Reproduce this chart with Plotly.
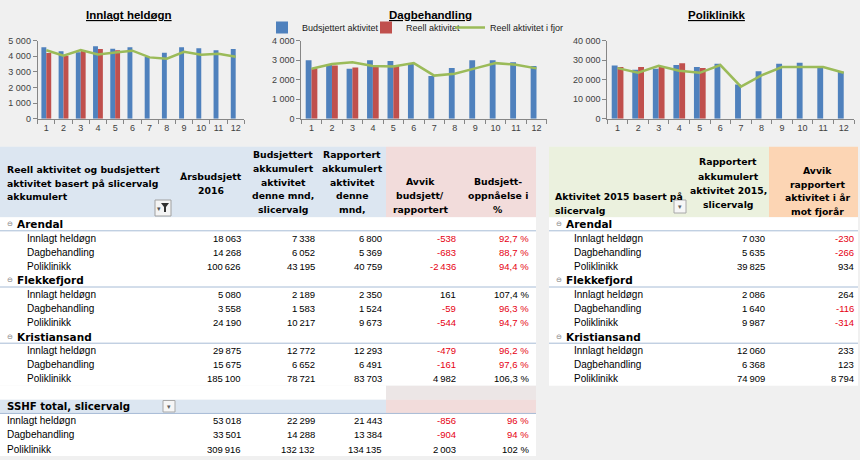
import plotly.graph_objects as go

W, H = 860, 460

# ---------------- data ----------------
months = [str(m) for m in range(1, 13)]

innlagt_budsjett = [4580, 4330, 4260, 4640, 4490, 4580, 3960, 4220, 4580, 4520, 4390, 4470]
innlagt_reell = [4210, 4040, 4340, 4470, 4380]
innlagt_fjor = [4390, 4040, 4400, 4110, 4240, 4360, 3930, 3850, 4290, 4100, 4170, 3970]

dag_budsjett = [3000, 2770, 2560, 3000, 2960, 2820, 2190, 2600, 3000, 3000, 2900, 2700]
dag_reell = [2585, 2725, 2625, 2725, 2725]
dag_fjor = [2560, 2800, 2900, 2700, 2680, 2850, 2210, 2310, 2580, 2850, 2770, 2580]

poli_budsjett = [27250, 25150, 25650, 27550, 26530, 28200, 17600, 24300, 28200, 28700, 26700, 24100]
poli_reell = [26480, 26480, 26650, 28500, 26030]
poli_fjor = [25950, 23550, 27150, 24550, 23520, 27500, 16400, 22200, 26500, 26500, 26500, 23600]

chart_titles = ["Innlagt heldøgn", "Dagbehandling", "Poliklinikk"]
series_names = ["Budsjettert aktivitet", "Reell aktivitet", "Reell aktivitet i fjor"]
chart_ymax = [5000, 4000, 40000]
chart_dtick = [1000, 1000, 10000]

sites = ["Arendal", "Flekkefjord", "Kristiansand"]
activities = ["Innlagt heldøgn", "Dagbehandling", "Poliklinikk"]
aarsbudsjett_2016 = [[18063, 14268, 100626], [5080, 3558, 24190], [29875, 15675, 185100]]
budsjett_akk = [[7338, 6052, 43195], [2189, 1583, 10217], [12772, 6652, 78721]]
rapportert_akk = [[6800, 5369, 40759], [2350, 1524, 9673], [12293, 6491, 83703]]
avvik_budsjett = [[-538, -683, -2436], [161, -59, -544], [-479, -161, 4982]]
oppnaelse_pct = [[92.7, 88.7, 94.4], [107.4, 96.3, 94.7], [96.2, 97.6, 106.3]]

total_label = "SSHF total, slicervalg"
total_aarsbudsjett = [53018, 33501, 309916]
total_budsjett_akk = [22299, 14288, 132132]
total_rapportert_akk = [21443, 13384, 134135]
total_avvik = [-856, -904, 2003]
total_pct = [96, 94, 102]

aktivitet_2015 = [[7030, 5635, 39825], [2086, 1640, 9987], [12060, 6368, 74909]]
avvik_fjor = [[-230, -266, 934], [264, -116, -314], [233, 123, 8794]]

left_headers = [
    ["Reell aktivitet og budsjettert", "aktivitet basert på slicervalg", "akkumulert"],
    ["Årsbudsjett", "2016"],
    ["Budsjettert", "akkumulert", "aktivitet", "denne mnd,", "slicervalg"],
    ["Rapportert", "akkumulert", "aktivitet", "denne", "mnd,"],
    ["Avvik", "budsjett/", "rapportert"],
    ["Budsjett-", "oppnåelse i", "%"],
]
right_headers = [
    ["Aktivitet 2015 basert på", "slicervalg"],
    ["Rapportert", "akkumulert", "aktivitet 2015,", "slicervalg"],
    ["Avvik", "rapportert", "aktivitet i år", "mot fjorår"],
]

# ---------------- style ----------------
BLUE, RED, GREEN = "#4F81BD", "#C0504D", "#9BBB59"
BG = "#F0F0F0"
TXT_RED = "#E60012"
AXIS = "#868686"
HDR_BLUE, HDR_PINK = "#DCE6F1", "#F2DCDB"
HDR_GREEN, HDR_ORANGE = "#EBF1DE", "#FCD5B4"
SEP = "#A7BCD6"
F_REG = "Liberation Sans, Arial, sans-serif"
F_NUM = "Liberation Sans, Arial, sans-serif"
NUM_SIZE = 9.5
F_BOLD = "DejaVu Sans, Verdana, sans-serif"


def px(x):
    return x / W


def py(y):
    return 1 - y / H


def fmt_int(v):
    return f"{v:,}".replace(",", "\u2009")


def fmt_pct(v):
    if float(v).is_integer():
        return f"{int(v)} %"
    return f"{v:.1f}".replace(".", ",") + " %"


fig = go.Figure()

# ---------------- charts ----------------
chart_data = [
    (innlagt_budsjett, innlagt_reell, innlagt_fjor),
    (dag_budsjett, dag_reell, dag_fjor),
    (poli_budsjett, poli_reell, poli_fjor),
]
chart_x = [(37.7, 244.3), (301.3, 546.7), (607.3, 854.0)]
title_cx = [129, 430, 716.5]
plot_top, plot_bot = 40.7, 118.7
legend_ids = ["legend", "legend2", "legend3"]
legend_left = [262, 366, 450]

layout_axes = {}
for i, (budsj, reell, fjor) in enumerate(chart_data):
    sfx = "" if i == 0 else str(i + 1)
    xa, ya = "x" + sfx, "y" + sfx
    show = i == 1
    fig.add_trace(go.Bar(x=months, y=budsj, name=series_names[0], marker=dict(color=BLUE, line=dict(width=0)),
                         xaxis=xa, yaxis=ya, showlegend=show, legend=legend_ids[0]))
    fig.add_trace(go.Bar(x=months[:len(reell)], y=reell, name=series_names[1],
                         marker=dict(color=RED, line=dict(width=0)),
                         xaxis=xa, yaxis=ya, showlegend=show, legend=legend_ids[1]))
    fig.add_trace(go.Scatter(x=months, y=fjor, name=series_names[2], mode="lines",
                             line=dict(color=GREEN, width=2.5), xaxis=xa, yaxis=ya,
                             showlegend=show, legend=legend_ids[2]))
    ymax, dt = chart_ymax[i], chart_dtick[i]
    layout_axes["xaxis" + sfx] = dict(
        domain=[px(chart_x[i][0]), px(chart_x[i][1])], anchor=ya, type="category",
        categoryorder="array", categoryarray=months, tickangle=0, automargin=False,
        showline=True, linecolor=AXIS, linewidth=1, ticks="outside", tickson="boundaries",
        ticklen=4, tickcolor=AXIS, showgrid=False, zeroline=False, showspikes=False,
        tickfont=dict(family=F_REG, size=9, color="#404040"),
    )
    layout_axes["yaxis" + sfx] = dict(
        domain=[py(plot_bot), py(plot_top)], anchor=xa, range=[0, ymax], automargin=False,
        tick0=0, dtick=dt, tickformat=",d", showline=True, linecolor=AXIS, linewidth=1,
        ticks="outside", ticklen=4, tickcolor=AXIS, showgrid=False, zeroline=False, showspikes=False,
        tickfont=dict(family=F_REG, size=9, color="#404040"),
    )

legends = {}
for k, lid in enumerate(legend_ids):
    legends[lid] = dict(orientation="h", x=px(legend_left[k]), y=py(27.5), xanchor="left", yanchor="middle",
                        font=dict(family=F_REG, size=9, color="#202020"), bgcolor="rgba(0,0,0,0)",
                        itemwidth=30, borderwidth=0)

annotations = []
shapes = []

for i, t in enumerate(chart_titles):
    annotations.append(dict(x=px(title_cx[i]), y=py(15), xref="paper", yref="paper",
                            text=f"<b><u>{t}</u></b>", showarrow=False, xanchor="center", yanchor="middle",
                            font=dict(family=F_REG, size=11.5, color="#000")))


def rect(x0, x1, y0, y1, fill, line=None):
    shapes.append(dict(type="rect", xref="paper", yref="paper", x0=px(x0), x1=px(x1), y0=py(y1), y1=py(y0),
                       fillcolor=fill, line=dict(width=1 if line else 0, color=line or fill), layer="below"))


def hline(x0, x1, y, color=SEP):
    shapes.append(dict(type="line", xref="paper", yref="paper", x0=px(x0), x1=px(x1), y0=py(y), y1=py(y),
                       line=dict(width=1, color=color), layer="above"))


def txt(x, y, s, anchor="left", font=F_REG, size=10, color="#000", bold=False):
    annotations.append(dict(x=px(x), y=py(y), xref="paper", yref="paper", text=f"<b>{s}</b>" if bold else s,
                            showarrow=False, xanchor=anchor, yanchor="middle",
                            font=dict(family=font, size=size, color=color)))


def row_y(i):
    return 224.2 + 14.05 * i


HDR_TOP, HDR_BOT = 146.7, row_y(0) - 7

# ---------------- left table ----------------
LX0, LSPLIT, LX1 = 0, 386, 536
rect(LX0, LSPLIT, HDR_TOP, HDR_BOT, HDR_BLUE)
rect(LSPLIT, LX1, HDR_TOP, HDR_BOT, HDR_PINK)
rect(LX0, LX1, HDR_BOT, row_y(11) + 7, "#FFFFFF")
rect(LX0, LSPLIT, row_y(12) - 7, row_y(12) + 7, "#FFFFFF")
rect(LSPLIT, LX1, row_y(12) - 7, row_y(12) + 7, "#ECE6E6")
rect(LX0, LSPLIT, row_y(13) - 7, row_y(13) + 7, HDR_BLUE)
rect(LSPLIT, LX1, row_y(13) - 7, row_y(13) + 7, HDR_PINK)
rect(LX0, LX1, row_y(14) - 7, row_y(16) + 7, "#FFFFFF")

hdr_lines_y = [
    [169.3, 183.0, 196.7],
    [176.3, 190.0],
    [154.7, 168.4, 182.1, 195.8, 209.5],
    [154.7, 168.4, 182.1, 195.8, 209.5],
    [182.0, 195.7, 209.4],
    [182.0, 195.7, 209.4],
]
hdr_cx = [5, 210.5, 283, 352, 420, 498]
for c, lines in enumerate(left_headers):
    for ln, s in enumerate(lines):
        txt(hdr_cx[c], hdr_lines_y[c][ln], s, anchor="left" if c == 0 else "center",
            font=F_BOLD, size=9.3, bold=True)

# filter buttons
rect(155, 171, 200, 216, "#F4F4F4", line="#A0A0A0")
shapes.append(dict(type="path", xref="paper", yref="paper", layer="above",
                   path=f"M {px(161)},{py(203)} L {px(169)},{py(203)} L {px(166)},{py(207)} L {px(166)},{py(212)} "
                        f"L {px(164)},{py(212)} L {px(164)},{py(207)} Z",
                   fillcolor="#303030", line=dict(width=0)))
txt(159, 209, "▾", anchor="center", size=7, color="#505050")

val_right = [243.3, 316.7, 384, 457.7, 530.7]
r = 0
for s_i, site in enumerate(sites):
    y = row_y(r)
    txt(10, y, "⊖", anchor="center", font=F_BOLD, size=7, color="#808080")
    txt(14.5, y, site, font=F_BOLD, size=10.5, bold=True)
    hline(LX0, LX1, y + 6.6)
    r += 1
    for a_i, act in enumerate(activities):
        y = row_y(r)
        txt(25, y, act)
        vals = [fmt_int(aarsbudsjett_2016[s_i][a_i]), fmt_int(budsjett_akk[s_i][a_i]),
                fmt_int(rapportert_akk[s_i][a_i]), fmt_int(avvik_budsjett[s_i][a_i]),
                fmt_pct(oppnaelse_pct[s_i][a_i])]
        cols = ["#000", "#000", "#000",
                TXT_RED if avvik_budsjett[s_i][a_i] < 0 else "#000",
                TXT_RED if oppnaelse_pct[s_i][a_i] < 100 else "#000"]
        for c in range(5):
            txt(val_right[c], y, vals[c], anchor="right", font=F_NUM, size=NUM_SIZE, color=cols[c])
        r += 1

yt = row_y(13)
txt(5, yt, total_label, font=F_BOLD, size=10.2, bold=True)
hline(LX0, LX1, yt + 6.6)
rect(163, 175, 400.5, 412, "#F6F6F6", line="#A8A8A8")
txt(169, 406.5, "▾", anchor="center", size=7, color="#606060")
for a_i, act in enumerate(activities):
    y = row_y(14 + a_i)
    txt(5, y, act)
    vals = [fmt_int(total_aarsbudsjett[a_i]), fmt_int(total_budsjett_akk[a_i]),
            fmt_int(total_rapportert_akk[a_i]), fmt_int(total_avvik[a_i]), fmt_pct(total_pct[a_i])]
    cols = ["#000", "#000", "#000",
            TXT_RED if total_avvik[a_i] < 0 else "#000",
            TXT_RED if total_pct[a_i] < 100 else "#000"]
    for c in range(5):
        txt(val_right[c], y, vals[c], anchor="right", font=F_NUM, size=NUM_SIZE, color=cols[c])

# ---------------- right table ----------------
RX0, RSPLIT, RX1 = 549, 769, 858
rect(RX0, RSPLIT, HDR_TOP, HDR_BOT, HDR_GREEN)
rect(RSPLIT, RX1, HDR_TOP, HDR_BOT, HDR_ORANGE)
rect(RX0, RX1, HDR_BOT, row_y(11) + 7, "#FFFFFF")

r_hdr_y = [[196.8, 210.5], [162.0, 176.0, 190.2, 204.3], [170.5, 184.0, 197.5, 211.0]]
r_hdr_cx = [553, 728, 817]
for c, lines in enumerate(right_headers):
    for ln, s in enumerate(lines):
        txt(r_hdr_cx[c], r_hdr_y[c][ln], s, anchor="left" if c == 0 else "center",
            font=F_BOLD, size=9.3, bold=True)
rect(674, 686, 200, 213, "#F6F6F6", line="#A8A8A8")
txt(680, 206.5, "▾", anchor="center", size=7, color="#606060")

rval_right = [767, 856]
r = 0
for s_i, site in enumerate(sites):
    y = row_y(r)
    txt(559, y, "⊖", anchor="center", font=F_BOLD, size=7, color="#808080")
    txt(563.5, y, site, font=F_BOLD, size=10.5, bold=True)
    hline(RX0, RX1, y + 6.6)
    r += 1
    for a_i, act in enumerate(activities):
        y = row_y(r)
        txt(571.5, y, act)
        txt(rval_right[0], y, fmt_int(aktivitet_2015[s_i][a_i]), anchor="right", font=F_NUM, size=NUM_SIZE)
        v = avvik_fjor[s_i][a_i]
        txt(rval_right[1], y, fmt_int(v), anchor="right", font=F_NUM, size=NUM_SIZE,
            color=TXT_RED if v < 0 else "#000")
        r += 1

fig.update_layout(
    width=W, height=H, margin=dict(l=0, r=0, t=0, b=0, pad=0, autoexpand=False),
    paper_bgcolor=BG, plot_bgcolor=BG,
    barmode="group", bargap=0.43, bargroupgap=0,
    separators=", ",
    showlegend=True,
    hovermode=False, dragmode=False,
    annotations=annotations,
    shapes=shapes,
    **legends,
    **layout_axes,
)

fig.write_html("out.html", config={"displayModeBar": False, "staticPlot": True},
               post_script="document.body.style.margin='0';document.body.style.background='#F0F0F0';")
